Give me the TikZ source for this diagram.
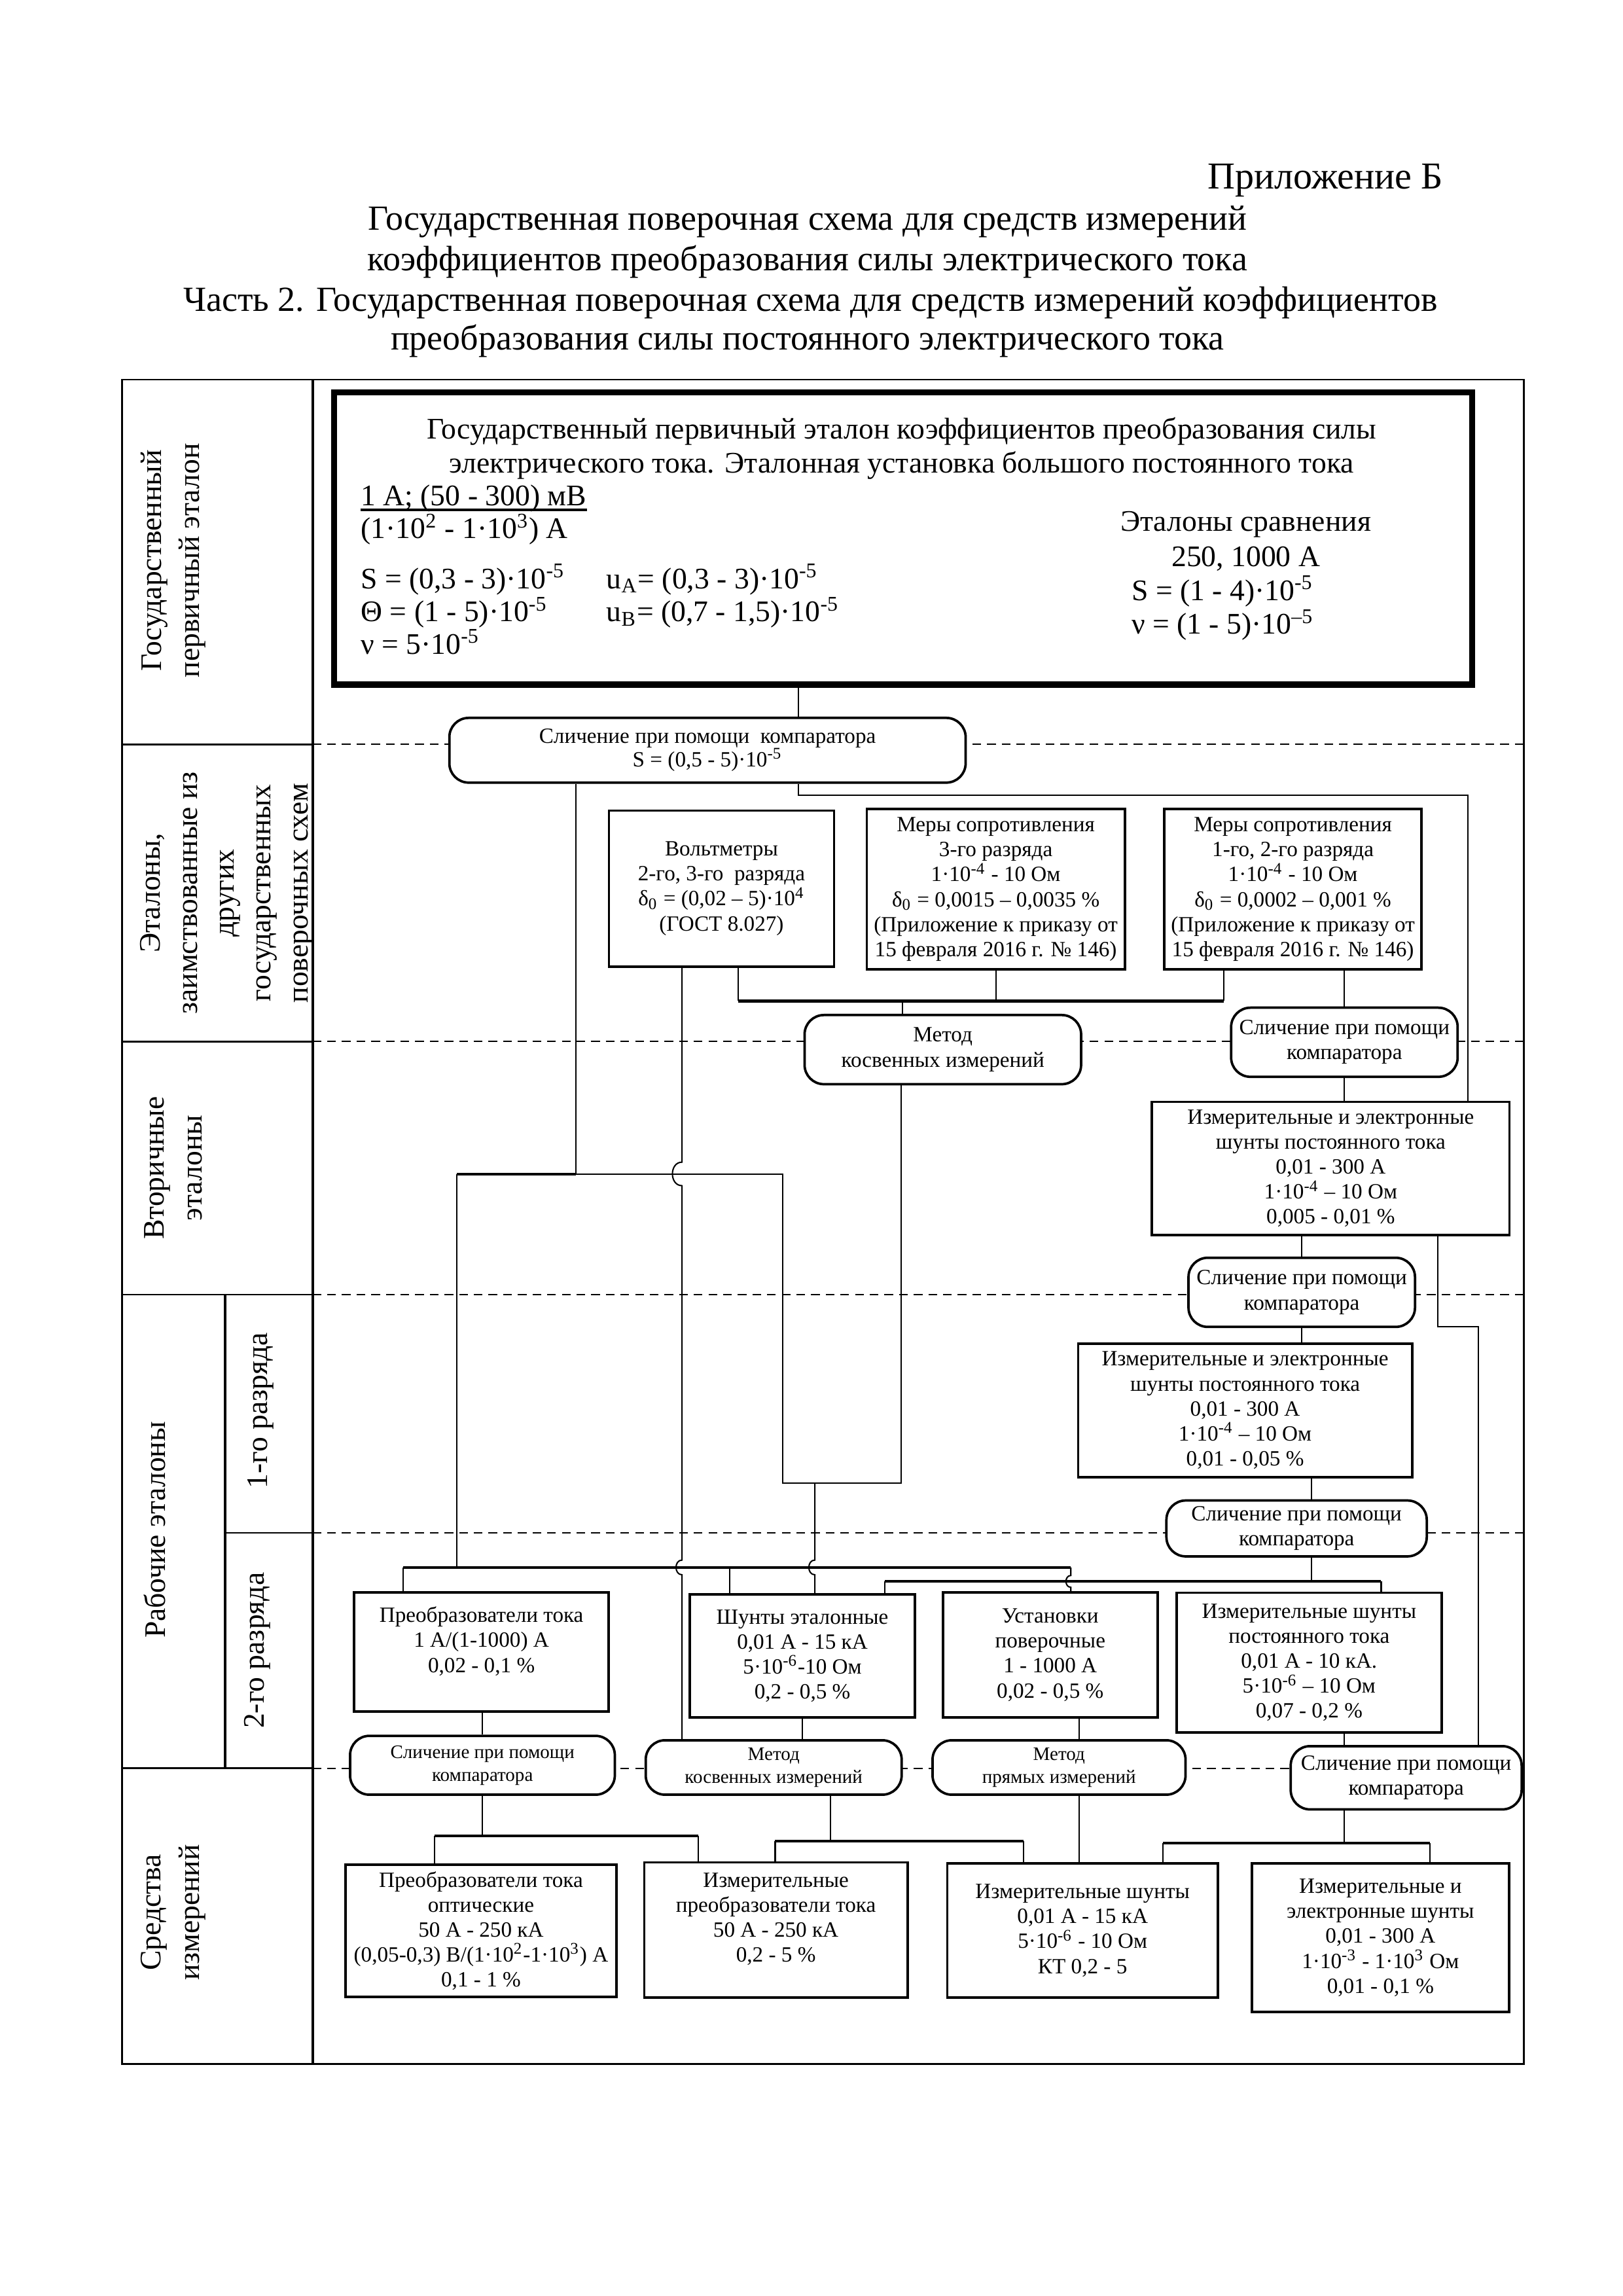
\documentclass[tikz,border=0pt]{standalone}
\usepackage{fontspec}
\setmainfont{Liberation Serif}
\usetikzlibrary{calc}

\newcommand{\appfont}{\fontsize{14}{14.7}\selectfont}
\newcommand{\titlefont}{\fontsize{13}{14.7}\selectfont}
\newcommand{\etalonfont}{\fontsize{11}{12.4}\selectfont}
\newcommand{\sidefont}{\fontsize{11}{14.2}\selectfont}
\newcommand{\boxfont}{\fontsize{8}{9.2}\selectfont}
\newcommand{\smallfont}{\fontsize{7}{8.4}\selectfont}

\begin{document}
\begin{tikzpicture}[x=0.19039mm,y=-0.19039mm,
  box/.style={draw, line width=0.9pt, fill=white, align=center, inner sep=1pt, font=\boxfont},
  oval/.style={box, rounded corners=2.5mm},
  sz/.style 2 args={minimum width=#1*0.19039mm, minimum height=#2*0.19039mm},
  link/.style={line width=0.5pt},
  bus/.style={line width=1pt},
  tier/.style={line width=0.5pt, dash pattern=on 3.2pt off 2.2pt},
  side/.style={rotate=90, align=center, font=\sidefont, inner sep=0pt},
  etalon/.style={font=\etalonfont, inner sep=0pt},
  hop/.style={out=180, in=180, looseness=1.4}]

\useasboundingbox (0,0) rectangle (1103,1560.8);

% Title
\node[font=\appfont, anchor=base east, inner sep=0pt] (app) at (981.5,128.2) {Приложение Б};
\node[font=\titlefont, anchor=base, inner sep=0pt] (t1) at (549,156.5) {Государственная поверочная схема для средств измерений};
\node[font=\titlefont, anchor=base, inner sep=0pt] (t2) at (549,183.9) {коэффициентов преобразования силы электрического тока};
\node[font=\titlefont, anchor=base, inner sep=0pt] (t3) at (551,211.4) {Часть 2. Государственная поверочная схема для средств измерений коэффициентов};
\node[font=\titlefont, anchor=base, inner sep=0pt] (t4) at (549,238) {преобразования силы постоянного электрического тока};

% Frame and levels
\draw[line width=0.6pt] (83,258) rectangle (1036,1403);
\draw[line width=1pt] (212.5,258) -- (212.5,1403);
\draw[line width=1pt] (153,880) -- (153,1202);
\foreach \y in {506,708,880,1202}
  \draw[line width=0.6pt] (83,\y) -- (212.5,\y);
\draw[line width=0.6pt] (153,1042) -- (212.5,1042);
\foreach \y in {506,708,880,1042,1202}
  \draw[tier] (212.5,\y) -- (1036,\y);

% Level names
\node[side] (lb1) at (117.8,381) {Государственный\\первичный эталон};
\node[side, font=\fontsize{11}{13.6}\selectfont] (lb2) at (154.5,607) {Эталоны,\\заимствованные из\\других\\государственных\\поверочных схем};
\node[side] (lb3) at (117.8,794) {Вторичные\\эталоны};
\node[side] (lb4) at (105,1040) {Рабочие эталоны};
\node[side] (lb5) at (177,959) {1-го разряда};
\node[side] (lb6) at (175,1122) {2-го разряда};
\node[side] (lb7) at (117.8,1300) {Средства\\измерений};

% Primary standard
\node[draw, line width=1.6pt, sz={775}{200}] (pe) at (614,366) {};
\draw[line width=0.7pt] ($(pe.south west)+(3.6,-3.6)$) rectangle ($(pe.north east)+(-3.6,3.6)$);
\node[etalon, anchor=base] (pe1) at (613,298.5) {Государственный первичный эталон коэффициентов преобразования силы};
\node[etalon, anchor=base] (pe2) at (613,321.5) {электрического тока. Эталонная установка большого постоянного тока};
\node[etalon, anchor=base west] (fr1) at (245,343.5) {1 А; (50 - 300) мВ};
\draw[line width=0.9pt] ($(fr1.base west)+(0,3)$) -- ($(fr1.base east)+(0,3)$);
\node[etalon, anchor=base west] (fr2) at (245,366) {(1·10\textsuperscript{2} - 1·10\textsuperscript{3}) А};
\node[etalon, anchor=base west] (s1) at (245,400) {S = (0,3 - 3)·10\textsuperscript{-5}};
\node[etalon, anchor=base west] (s2) at (245,422.5) {Θ = (1 - 5)·10\textsuperscript{-5}};
\node[etalon, anchor=base west] (s3) at (245,444.5) {ν = 5·10\textsuperscript{-5}};
\node[etalon, anchor=base west] (ua) at (412,400) {u\textsubscript{A}= (0,3 - 3)·10\textsuperscript{-5}};
\node[etalon, anchor=base west] (ub) at (412,422.5) {u\textsubscript{B}= (0,7 - 1,5)·10\textsuperscript{-5}};
\node[etalon, anchor=base] (cs1) at (847,361) {Эталоны сравнения};
\node[etalon, anchor=base] (cs2) at (847,385) {250, 1000 А};
\node[etalon, anchor=base west] (cs3) at (769,408) {S = (1 - 4)·10\textsuperscript{-5}};
\node[etalon, anchor=base west] (cs4) at (769,431) {ν = (1 - 5)·10\textsuperscript{–5}};

% Borrowed standards
\node[oval, sz={351}{44}, font=\fontsize{8}{8.6}\selectfont] (cmp0) at (481,510) {Сличение при помощи~ компаратора\\S = (0,5 - 5)·10\textsuperscript{-5}};
\node[box, sz={153}{106}] (vm) at (490.5,604) {Вольтметры\\2-го, 3-го~ разряда\\δ\textsubscript{0} = (0,02 – 5)·10\textsuperscript{4}\\(ГОСТ 8.027)};
\node[box, sz={175.5}{109}] (mr3) at (677,604.5) {Меры сопротивления\\3-го разряда\\1·10\textsuperscript{-4} - 10 Ом\\δ\textsubscript{0} = 0,0015 – 0,0035 \%\\(Приложение к приказу от\\15 февраля 2016 г. № 146)};
\node[box, sz={175}{109}] (mr12) at (879,604.5) {Меры сопротивления\\1-го, 2-го разряда\\1·10\textsuperscript{-4} - 10 Ом\\δ\textsubscript{0} = 0,0002 – 0,001 \%\\(Приложение к приказу от\\15 февраля 2016 г. № 146)};
\node[oval, sz={188}{47}] (mk1) at (641,713.5) {Метод\\косвенных измерений};
\node[oval, sz={154}{47}] (cmp1) at (914,708.5) {Сличение при помощи\\компаратора};

% Secondary and working standards
\node[box, sz={243}{90.5}] (sh1) at (904.7,794.3) {Измерительные и электронные\\шунты постоянного тока\\0,01 - 300 А\\1·10\textsuperscript{-4} – 10 Ом\\0,005 - 0,01 \%};
\node[oval, sz={154}{47}] (cmp2) at (885,878.5) {Сличение при помощи\\компаратора};
\node[box, sz={227}{90.5}] (sh2) at (846.5,958.8) {Измерительные и электронные\\шунты постоянного тока\\0,01 - 300 А\\1·10\textsuperscript{-4} – 10 Ом\\0,01 - 0,05 \%};
\node[oval, sz={177}{38}] (cmp3) at (881.5,1039) {Сличение при помощи\\компаратора};
\node[box, sz={173}{81}] (pt1) at (327.3,1123) {Преобразователи тока\\1 А/(1-1000) А\\0,02 - 0,1 \%\\ \mbox{}};
\node[box, sz={153}{83.7}] (shE) at (545.5,1125.7) {Шунты эталонные\\0,01 А - 15 кА\\5·10\textsuperscript{-6}-10 Ом\\0,2 - 0,5 \%};
\node[box, sz={146}{85}] (ust) at (714,1125) {Установки\\поверочные\\1 - 1000 А\\0,02 - 0,5 \%};
\node[box, sz={180}{95}] (ish) at (890,1130.2) {Измерительные шунты\\постоянного тока\\0,01 А - 10 кА.\\5·10\textsuperscript{-6} – 10 Ом\\0,07 - 0,2 \%};
\node[oval, sz={180}{40}, font=\smallfont] (cmp4) at (328,1200) {Сличение при помощи\\компаратора};
\node[oval, sz={174}{37}, font=\smallfont] (mk2) at (526,1201.5) {Метод\\косвенных измерений};
\node[oval, sz={172}{37}, font=\smallfont] (mp) at (720,1201.5) {Метод\\прямых измерений};
\node[oval, sz={157}{43}] (cmp5) at (956,1208.5) {Сличение при помощи\\компаратора};

% Measuring instruments
\node[box, sz={184}{90}] (pto) at (327,1312.6) {Преобразователи тока\\оптические\\50 А - 250 кА\\(0,05-0,3) В/(1·10\textsuperscript{2}-1·10\textsuperscript{3}) А\\0,1 - 1 \%};
\node[box, sz={179}{92}] (ipt) at (527.5,1312) {Измерительные\\преобразователи тока\\50 А - 250 кА\\0,2 - 5 \%\\ \mbox{}};
\node[box, sz={184}{91}] (ishL) at (736,1312.3) {Измерительные шунты\\0,01 А - 15 кА\\5·10\textsuperscript{-6} - 10 Ом\\КТ 0,2 - 5};
\node[box, sz={175}{101}] (ies) at (938.5,1317.2) {Измерительные и\\электронные шунты\\0,01 - 300 А\\1·10\textsuperscript{-3} - 1·10\textsuperscript{3} Ом\\0,01 - 0,1 \%};

% Connections from the primary standard
\coordinate (j0) at (543,0);
\draw[link] (pe.south -| j0) -- (cmp0.north -| j0);
\coordinate (r1) at (998,540.6);
\draw[link] (cmp0.south -| j0) |- (r1) -- (sh1.north -| r1);
\coordinate (xa) at (391.4,798);
\coordinate (xb) at (310.6,798);
\coordinate (xc) at (532,798);
\coordinate (xd) at (532,1008);
\coordinate (xe) at (612.8,1008);
\coordinate (xf) at (554,1008);
\draw[link] (cmp0.south -| xa) -- (xa) -- (xc) -- (xd) -- (xe) -- (mk1.south -| xe);
\draw[bus] (xa) -- (xb);

% Bus lines of the second rank
\coordinate (b1l) at (274,1065.5);
\coordinate (b1m) at (496,1065.5);
\coordinate (b1r) at (728,1065.5);
\coordinate (b2l) at (601.6,1075);
\coordinate (b2r) at (939,1075);
\draw[link] (xb) -- (xb |- b1l);
\draw[bus] (b1l) -- (b1r);
\draw[link] (b1l) -- (pt1.north -| b1l);
\draw[link] (b1m) -- (shE.north -| b1m);
\draw[link] (b1r) -- ($(b1r |- b2l)+(0,-4)$) to[hop] ($(b1r |- b2l)+(0,4)$) -- (ust.north -| b1r);
\draw[link] (xf) -- ($(xf |- b1l)+(0,-5)$) to[hop] ($(xf |- b1l)+(0,5)$) -- (shE.north -| xf);
\coordinate (v1) at (463.7,0);
\draw[link] (vm.south -| v1) -- ($(v1 |- xa)+(0,-8)$) to[hop] ($(v1 |- xa)+(0,8)$)
  -- ($(v1 |- b1l)+(0,-5)$) to[hop] ($(v1 |- b1l)+(0,5)$) -- (mk2.north -| v1);

% Voltmeters and resistance measures
\coordinate (ba) at (502,680.5);
\coordinate (bb) at (832,680.5);
\coordinate (bm) at (613.6,680.5);
\draw[link] (vm.south -| ba) -- (ba);
\draw[bus] (ba) -- (bb);
\draw[link] (mr12.south -| bb) -- (bb);
\draw[link] (mr3.south) -- (mr3.south |- ba);
\draw[link] (bm) -- (mk1.north -| bm);
\draw[link] (mr12.south -| cmp1.north) -- (cmp1.north);
\draw[link] (cmp1.south) -- (cmp1.south |- sh1.north);

% Shunts chain
\draw[link] (sh1.south -| cmp2.north) -- (cmp2.north);
\coordinate (r2) at (977.5,902);
\coordinate (r3) at (1005,902);
\draw[link] (sh1.south -| r2) -- (r2) -- (r3) -- (cmp5.north -| r3);
\draw[link] (cmp2.south) -- (cmp2.south |- sh2.north);
\coordinate (k3) at (891.6,0);
\draw[link] (sh2.south -| k3) -- (cmp3.north -| k3);
\draw[link] (cmp3.south -| k3) -- (k3 |- b2l);
\draw[bus] (b2l) -- (b2r);
\draw[link] (b2l) -- (shE.north -| b2l);
\draw[link] (b2r) -- (ish.north -| b2r);

% Second rank to methods
\draw[link] (pt1.south -| cmp4.north) -- (cmp4.north);
\draw[link] (shE.south) -- (shE.south |- mk2.north);
\coordinate (k4) at (733.6,0);
\draw[link] (ust.south -| k4) -- (mp.north -| k4);
\coordinate (k5) at (914,0);
\draw[link] (ish.south -| k5) -- (cmp5.north -| k5);

% Methods to measuring instruments
\coordinate (c1l) at (295.5,1248);
\coordinate (c1r) at (474.6,1248);
\draw[link] (cmp4.south) -- (cmp4.south |- c1l);
\draw[bus] (c1l) -- (c1r);
\draw[link] (c1l) -- (pto.north -| c1l);
\draw[link] (c1r) -- (ipt.north -| c1r);
\coordinate (c2l) at (527,1251.6);
\coordinate (c2r) at (696,1251.6);
\coordinate (k7) at (564.6,0);
\draw[link] (mk2.south -| k7) -- (k7 |- c2l);
\draw[bus] (c2l) -- (c2r);
\draw[link] (c2l) -- (ipt.north -| c2l);
\draw[link] (c2r) -- (ishL.north -| c2r);
\draw[link] (mp.south -| k4) -- (ishL.north -| k4);
\coordinate (c3l) at (790.7,1253);
\coordinate (c3r) at (972,1253);
\draw[link] (cmp5.south -| k5) -- (k5 |- c3l);
\draw[bus] (c3l) -- (c3r);
\draw[link] (c3l) -- (ishL.north -| c3l);
\draw[link] (c3r) -- (ies.north -| c3r);
\end{tikzpicture}
\end{document}
